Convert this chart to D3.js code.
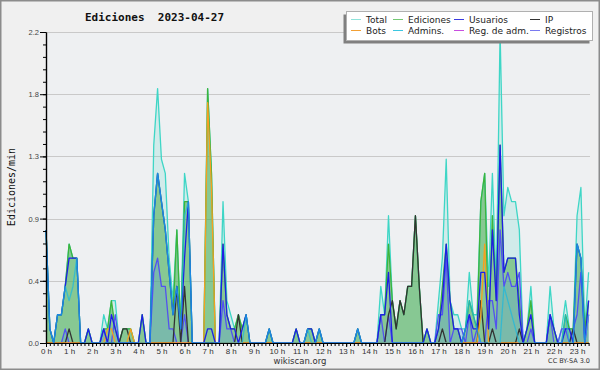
<!DOCTYPE html>
<html>
<head>
<meta charset="utf-8">
<script src="https://cdn.jsdelivr.net/npm/d3@7"></script>
<style>
  body { margin: 0; background: #f0f0f0; }
  svg { display: block; font-family: "DejaVu Sans", sans-serif; }
</style>
</head>
<body>
<svg id="chart" width="600" height="370"></svg>
<script>
// one value every 10 minutes, edits per minute
const minutes = d3.range(0, 1420, 10);
const hours = [0,1,2,3,4,5,6,7,8,9,10,11,12,13,14,15,16,17,18,19,20,21,22,23];
const yTicks = [0, 0.44, 0.88, 1.32, 1.76, 2.2];

const total = [
0.8,0.1,0,0.2,0.2,0.4,0.7,0.6,0.6,0,
0,0.1,0,0,0,0.2,0.1,0.3,0.3,0,
0.1,0.1,0.1,0,0,0.2,0,0,1.4,1.8,
1.3,1.2,0.6,0.3,0.8,0.1,1.2,1.0,0,0,
0,0,1.8,1.2,0,0,1.0,0.3,0.2,0.1,
0.2,0.1,0.2,0,0,0,0,0,0.1,0,
0,0,0,0,0,0.1,0,0,0.1,0.1,
0,0.1,0,0,0,0,0,0,0,0,
0,0.1,0,0,0,0,0,0.4,0.2,0.9,
0.3,0.1,0.3,0.2,0.4,0.4,0.9,0.4,0,0.1,
0,0,0.3,0.6,1.3,0.3,0.2,0.2,0.1,0.1,
0.5,0.2,0.2,1.0,1.2,0.4,1.2,0.4,2.2,0.9,
1.1,1.0,1.0,0.8,0,0.1,0.4,0,0,0,
0,0.4,0.1,0,0.1,0.3,0.1,0.1,0.9,1.1,
0.1,0.5];

const edits = [
0.8,0.1,0,0.2,0.2,0.4,0.7,0.6,0.6,0,
0,0.1,0,0,0,0.1,0.1,0.3,0.1,0,
0.1,0.1,0.1,0,0,0.2,0,0,0.9,1.2,
1.0,0.8,0.5,0.2,0.8,0.1,1.0,1.0,0,0,
0,0,1.8,1.2,0,0,0.7,0.2,0.1,0.1,
0.2,0.1,0.2,0,0,0,0,0,0.1,0,
0,0,0,0,0,0.1,0,0,0.1,0.1,
0,0.1,0,0,0,0,0,0,0,0,
0,0.1,0,0,0,0,0,0.2,0.2,0.7,
0.3,0.1,0.3,0.2,0.4,0.4,0.9,0.4,0,0.1,
0,0,0.1,0.4,0.7,0.3,0.1,0.1,0,0.1,
0.3,0.2,0.1,1.0,1.2,0.1,0.9,0.3,1.4,0.5,
0.6,0.6,0.6,0.3,0,0.1,0.3,0,0,0,
0,0.2,0.1,0,0,0.2,0.1,0.1,0.7,0.6,
0.1,0.3];

const users = [
0.8,0.1,0,0.2,0.2,0.4,0.6,0.6,0.6,0,
0,0.1,0,0,0,0.1,0,0.2,0.1,0,
0,0,0,0,0,0.2,0,0,0.9,1.2,
1.0,0.8,0.5,0.2,0.4,0.1,0.6,1.0,0,0,
0,0,0.1,0.1,0,0,0.7,0.2,0.1,0.1,
0,0.1,0.2,0,0,0,0,0,0.1,0,
0,0,0,0,0,0.1,0,0,0.1,0.1,
0,0.1,0,0,0,0,0,0,0,0,
0,0.1,0,0,0,0,0,0.2,0.2,0.5,
0,0,0,0,0,0,0,0,0,0.1,
0,0,0.1,0.3,0.7,0.3,0.1,0.1,0,0.1,
0.2,0.1,0.1,0.5,0.5,0.1,0.8,0.3,1.4,0.5,
0.6,0.6,0.6,0.2,0,0.1,0.2,0,0,0,
0,0.2,0.1,0,0,0.1,0.1,0,0.7,0.6,
0,0.3];

const ip = [
0,0,0,0,0,0,0.1,0,0,0,
0,0,0,0,0,0,0,0,0,0,
0.1,0.1,0,0,0,0,0,0,0,0,
0,0,0,0,0.4,0,0.4,0,0,0,
0,0,0,0,0,0,0,0,0,0,
0.2,0,0,0,0,0,0,0,0,0,
0,0,0,0,0,0,0,0,0,0,
0,0,0,0,0,0,0,0,0,0,
0,0,0,0,0,0,0,0,0,0.2,
0.3,0.1,0.3,0.2,0.4,0.4,0.9,0.4,0,0,
0,0,0,0.1,0,0,0,0,0,0,
0,0,0,0.3,0,0,0.1,0,0,0,
0,0,0,0.1,0,0,0,0,0,0,
0,0,0,0,0,0,0,0.1,0,0,
0,0];

const bots = [
0,0,0,0,0,0,0,0,0,0,
0,0,0,0,0,0,0.1,0.1,0,0,
0,0,0.1,0,0,0,0,0,0,0,
0,0,0,0,0,0,0,0,0,0,
0,0,1.7,1.1,0,0,0,0,0,0,
0,0,0,0,0,0,0,0,0,0,
0,0,0,0,0,0,0,0,0,0,
0,0,0,0,0,0,0,0,0,0,
0,0,0,0,0,0,0,0,0,0,
0,0,0,0,0,0,0,0,0,0,
0,0,0,0,0,0,0,0,0,0,
0,0,0,0.2,0.7,0,0,0,0,0,
0,0,0,0,0,0,0,0,0,0,
0,0,0,0,0,0,0,0,0,0,
0,0];

const admins = [
0.8,0.1,0,0.2,0.2,0.4,0.3,0.4,0.6,0,
0,0,0,0,0,0,0,0,0,0,
0,0,0,0,0,0,0,0,0.9,1.2,
1.0,0.8,0.5,0.2,0.4,0.1,0.9,1.0,0,0,
0,0,0,0,0,0,0,0,0,0,
0,0,0.2,0,0,0,0,0,0.1,0,
0,0,0,0,0,0,0,0,0.1,0,
0,0.1,0,0,0,0,0,0,0,0,
0,0.1,0,0,0,0,0,0,0,0,
0,0,0,0,0,0,0,0,0,0,
0,0,0,0,0,0,0,0,0,0.1,
0.3,0.2,0.1,0,0,0,0,0,0,0.4,
0.3,0.2,0.1,0,0,0,0,0,0,0,
0,0,0,0,0,0.2,0,0,0.7,0.6,
0,0.2];

const adminLogs = [
0,0,0,0,0,0,0,0,0,0,
0,0,0,0,0,0,0,0,0,0,
0,0,0,0,0,0,0,0,0,0,
0,0,0,0,0,0,0,0,0,0,
0,0,0,0,0,0,0,0,0,0,
0,0,0,0,0,0,0,0,0,0,
0,0,0,0,0,0,0,0,0,0,
0,0,0,0,0,0,0,0,0,0,
0,0,0,0,0,0,0,0,0,0,
0,0,0,0,0,0,0,0,0,0,
0,0,0,0,0,0,0,0,0,0,
0,0,0,0,0,0,0,0,0,0,
0,0,0,0,0,0,0,0,0,0,
0,0,0,0,0,0,0,0,0,0,
0,0.2];

const logs = [
0,0,0,0,0,0.1,0,0,0,0,
0,0,0,0,0,0.1,0,0,0.2,0,
0,0,0,0,0,0,0,0,0.5,0.6,
0.4,0.4,0.1,0.1,0,0,0.2,0,0,0,
0,0,0,0,0,0,0.3,0.1,0.1,0,
0,0,0,0,0,0,0,0,0,0,
0,0,0,0,0,0,0,0,0,0,
0,0,0,0,0,0,0,0,0,0,
0,0,0,0,0,0,0,0.2,0,0.2,
0,0,0,0,0,0,0,0,0,0,
0,0,0.2,0.2,0.6,0,0.1,0.1,0.1,0,
0.2,0,0.1,0,0,0.3,0.3,0.1,0.8,0.4,
0.5,0.4,0.4,0.5,0,0,0.1,0,0,0,
0,0.2,0,0,0.1,0.1,0,0.1,0.2,0.5,
0,0.2];

const legendNames = ["Total", "Ediciones", "Usuarios", "IP", "Bots", "Admins.", "Reg. de adm.", "Registros"];
const legendColors = ["#8fe3da", "#74c874", "#3b3be0", "#333333", "#f2a035", "#3cc6e0", "#c84ee0", "#7a7af0"];

const svg = d3.select("#chart");

svg.append("rect")
  .attr("x", 0.75).attr("y", 0.75)
  .attr("width", 598.5).attr("height", 368.5)
  .attr("fill", "#f0f0f0")
  .attr("stroke", "#8c8c8c")
  .attr("stroke-width", 1.5);

let x = d3.scaleLinear().domain([0, 1410]).range([46, 588.6]);
let y = d3.scaleLinear().domain([0, 2.2]).range([343, 32]);

svg.append("rect")
  .attr("x", 46).attr("y", 32)
  .attr("width", 544).attr("height", 311)
  .attr("fill", "#eef0f2");

svg.append("g")
  .selectAll("line")
  .data(yTicks.slice(1))
  .enter()
  .append("line")
  .attr("x1", 46).attr("x2", 590)
  .attr("y1", (d) => Math.round(y(d)) + 0.5)
  .attr("y2", (d) => Math.round(y(d)) + 0.5)
  .attr("stroke", "#c9c9c9");

const plot = svg.append("g");

function area(values) {
  return d3.area()
    .x((d, i) => x(minutes[i]))
    .y0(y(0))
    .y1((d) => y(d))(values);
}
function line(values) {
  return d3.line()
    .x((d, i) => x(minutes[i]))
    .y((d) => y(d))(values);
}

plot.append("path").attr("d", area(total)).attr("fill", "rgba(64,214,196,0.17)");
plot.append("path").attr("d", area(edits)).attr("fill", "rgba(62,165,60,0.5)");
plot.append("path").attr("d", area(logs)).attr("fill", "rgba(90,150,230,0.28)");

const lines = [
  [total, "#3ed6c6", 1],
  [edits, "#3cb43c", 1],
  [logs, "#5252f0", 1],
  [adminLogs, "#c040e0", 1],
  [ip, "#333333", 1],
  [bots, "#f5a020", 1],
  [users, "#1e1ee6", 1],
  [admins, "#1ab8e0", 0.7]
];
lines.forEach(function (s) {
  plot.append("path")
    .attr("d", line(s[0]))
    .attr("fill", "none")
    .attr("stroke", s[1])
    .attr("stroke-opacity", s[2])
    .attr("stroke-width", 1.3)
    .attr("stroke-linejoin", "round");
});

// axes
let yAxis = d3.axisLeft(y).tickValues(yTicks).tickFormat(d3.format(".1f")).tickSize(6).tickSizeOuter(0).tickPadding(1);
let yMinor = d3.axisLeft(y).tickValues(d3.range(0, 2.2, 0.088)).tickFormat("").tickSize(3).tickSizeOuter(0);
let xAxis = d3.axisBottom(x).tickValues(hours.map((h) => h * 60)).tickFormat((d) => d / 60 + " h").tickSize(4).tickSizeOuter(0).tickPadding(1);
let xMinor = d3.axisBottom(x).tickValues(minutes).tickFormat("").tickSize(3).tickSizeOuter(0);

svg.append("g").attr("transform", "translate(46,0)").call(yMinor);
svg.append("g").attr("transform", "translate(46,0)").call(yAxis)
  .selectAll("text").style("font-size", "7.5px").attr("fill", "#444");
svg.append("g").attr("transform", "translate(0,343)").call(xMinor);
svg.append("g").attr("transform", "translate(0,343)").call(xAxis)
  .selectAll("text").style("font-size", "8px").attr("fill", "#333");
svg.selectAll(".domain").attr("stroke", "#000").attr("stroke-width", 1.2);
svg.selectAll(".tick line").attr("stroke", "#000");

// titles
svg.append("text")
  .attr("x", 85).attr("y", 21)
  .style("font-family", "'DejaVu Sans Mono', monospace")
  .style("font-weight", "bold")
  .style("font-size", "11px")
  .style("white-space", "pre")
  .attr("fill", "#111")
  .text("Ediciones  2023-04-27");

svg.append("text")
  .attr("transform", "translate(15,187) rotate(-90)")
  .attr("text-anchor", "middle")
  .style("font-family", "'DejaVu Sans Mono', monospace")
  .style("font-size", "10px")
  .attr("fill", "#111")
  .text("Ediciones/min");

svg.append("text")
  .attr("x", 300).attr("y", 364)
  .attr("text-anchor", "middle")
  .style("font-size", "8.5px")
  .attr("fill", "#333")
  .text("wikiscan.org");

svg.append("text")
  .attr("x", 590).attr("y", 363)
  .attr("text-anchor", "end")
  .style("font-size", "6.5px")
  .attr("fill", "#333")
  .text("CC BY-SA 3.0");

// legend
const legend = svg.append("g");
legend.append("rect").attr("x", 343.5).attr("y", 14.5).attr("width", 246).attr("height", 29).attr("fill", "#808080");
legend.append("rect").attr("x", 346.5).attr("y", 11.5).attr("width", 246).attr("height", 29)
  .attr("fill", "#fff").attr("stroke", "#b0b0b0");
const colX = [351, 393, 454, 530];
legendNames.forEach(function (name, k) {
  let lx = colX[k % 4];
  let ly = k < 4 ? 19.5 : 30.5;
  legend.append("line")
    .attr("x1", lx).attr("x2", lx + 10)
    .attr("y1", ly).attr("y2", ly)
    .attr("stroke", legendColors[k]);
  legend.append("text")
    .attr("x", lx + 15).attr("y", ly + 3.2)
    .style("font-size", "9px")
    .attr("fill", "#222")
    .text(name);
});
</script>
</body>
</html>
